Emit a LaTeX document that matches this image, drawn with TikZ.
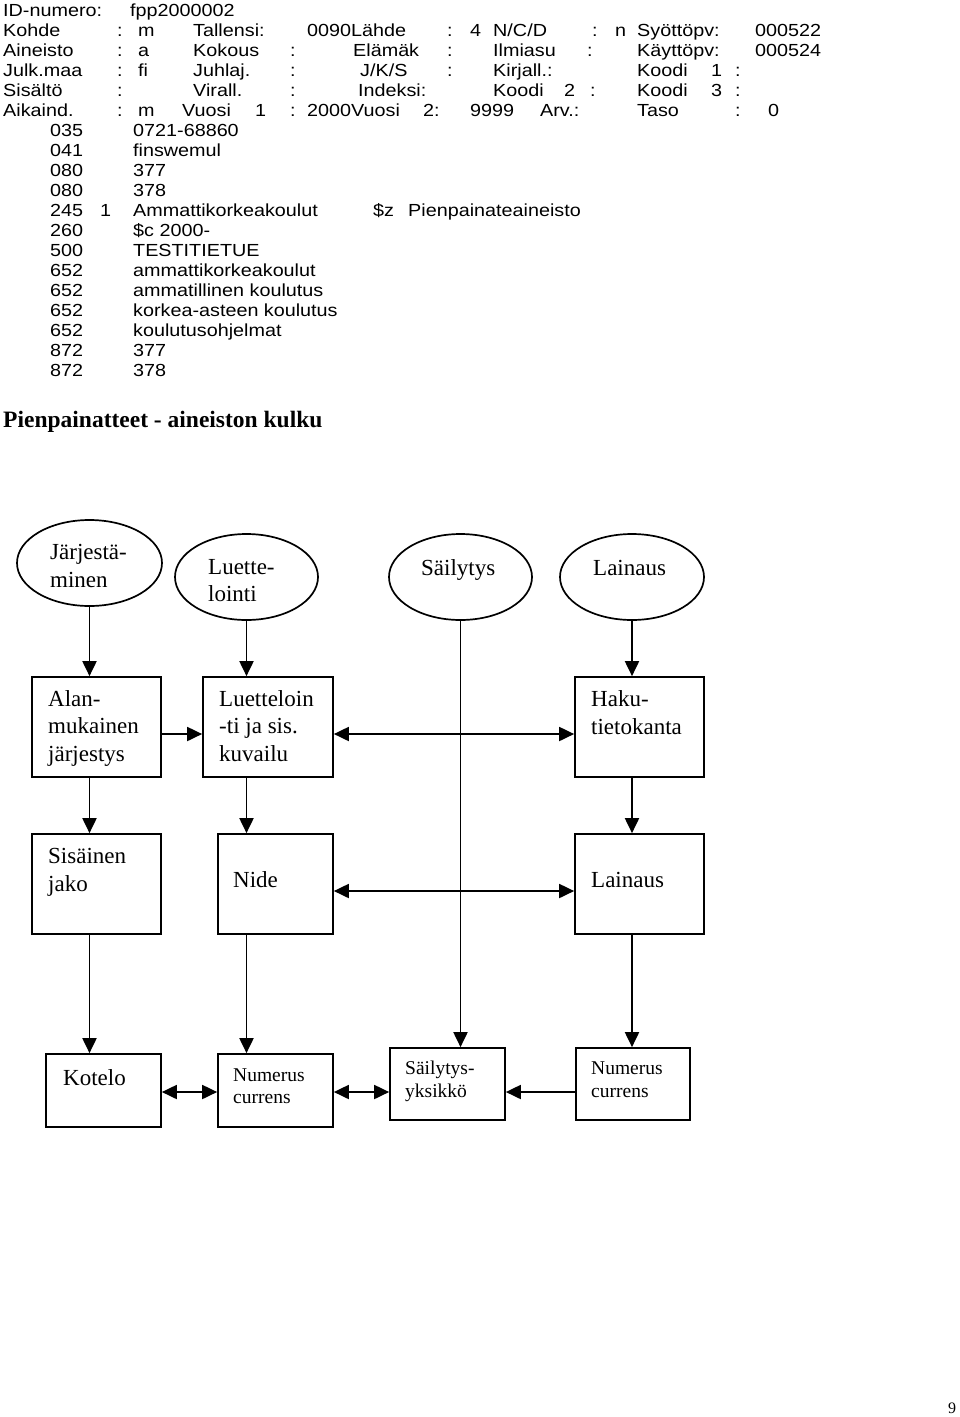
\documentclass[tikz,border=0pt]{standalone}
\usepackage{fontspec}
\setmainfont{Liberation Serif}
\newfontfamily\hdrfont[FakeStretch=1.13]{Liberation Sans}
\usetikzlibrary{arrows.meta,shapes.geometric,calc}
\begin{document}
\begin{tikzpicture}[x=1pt,y=-1pt,
  hdr/.style={anchor=base west,inner sep=0pt,font=\hdrfont\fontsize{17.5}{20}\selectfont},
  ttl/.style={anchor=base west,inner sep=0pt,font=\bfseries\fontsize{23.5}{27}\selectfont},
  lbl/.style={anchor=base west,inner sep=0pt,font=\fontsize{23}{27}\selectfont},
  slbl/.style={anchor=base west,inner sep=0pt,font=\fontsize{19.5}{23}\selectfont},
  oval/.style={ellipse,draw,line width=1.7pt,inner sep=0pt},
  boxx/.style={rectangle,draw,line width=1.7pt,inner sep=0pt},
  tip/.tip={Triangle[length=15pt,width=14pt]},
  arr/.style={line width=1.9pt,-tip},
  darr/.style={line width=1.9pt,tip-tip}]
\useasboundingbox (0,0) rectangle (960,1417);
\fill[white] (0,0) rectangle (960,1417);

% ---- header record ----
\node[hdr] (h1a) at (3,16) {ID-numero:};
\node[hdr] (h1b) at (130,16) {fpp2000002};

\node[hdr] (h2a) at (3,36) {Kohde};
\node[hdr] (h2b) at (117,36) {:};
\node[hdr] (h2c) at (138,36) {m};
\node[hdr] (h2d) at (193,36) {Tallensi:};
\node[hdr] (h2e) at (307,36) {0090Lähde};
\node[hdr] (h2f) at (447,36) {:};
\node[hdr] (h2g) at (470,36) {4};
\node[hdr] (h2h) at (493,36) {N/C/D};
\node[hdr] (h2i) at (592,36) {:};
\node[hdr] (h2j) at (615,36) {n};
\node[hdr] (h2k) at (637,36) {Syöttöpv:};
\node[hdr] (h2l) at (755,36) {000522};

\node[hdr] (h3a) at (3,56) {Aineisto};
\node[hdr] (h3b) at (117,56) {:};
\node[hdr] (h3c) at (138,56) {a};
\node[hdr] (h3d) at (193,56) {Kokous};
\node[hdr] (h3e) at (290,56) {:};
\node[hdr] (h3f) at (353,56) {Elämäk};
\node[hdr] (h3g) at (447,56) {:};
\node[hdr] (h3h) at (493,56) {Ilmiasu};
\node[hdr] (h3i) at (587,56) {:};
\node[hdr] (h3j) at (637,56) {Käyttöpv:};
\node[hdr] (h3k) at (755,56) {000524};

\node[hdr] (h4a) at (3,76) {Julk.maa};
\node[hdr] (h4b) at (117,76) {:};
\node[hdr] (h4c) at (138,76) {fi};
\node[hdr] (h4d) at (193,76) {Juhlaj.};
\node[hdr] (h4e) at (290,76) {:};
\node[hdr] (h4f) at (360,76) {J/K/S};
\node[hdr] (h4g) at (447,76) {:};
\node[hdr] (h4h) at (493,76) {Kirjall.:};
\node[hdr] (h4i) at (637,76) {Koodi};
\node[hdr] (h4j) at (711,76) {1};
\node[hdr] (h4k) at (735,76) {:};

\node[hdr] (h5a) at (3,96) {Sisältö};
\node[hdr] (h5b) at (117,96) {:};
\node[hdr] (h5c) at (193,96) {Virall.};
\node[hdr] (h5d) at (290,96) {:};
\node[hdr] (h5e) at (358,96) {Indeksi:};
\node[hdr] (h5f) at (493,96) {Koodi};
\node[hdr] (h5g) at (564,96) {2};
\node[hdr] (h5h) at (590,96) {:};
\node[hdr] (h5i) at (637,96) {Koodi};
\node[hdr] (h5j) at (711,96) {3};
\node[hdr] (h5k) at (735,96) {:};

\node[hdr] (h6a) at (3,116) {Aikaind.};
\node[hdr] (h6b) at (117,116) {:};
\node[hdr] (h6c) at (138,116) {m};
\node[hdr] (h6d) at (182,116) {Vuosi};
\node[hdr] (h6e) at (255,116) {1};
\node[hdr] (h6f) at (290,116) {:};
\node[hdr] (h6g) at (307,116) {2000Vuosi};
\node[hdr] (h6h) at (423,116) {2:};
\node[hdr] (h6i) at (470,116) {9999};
\node[hdr] (h6j) at (540,116) {Arv.:};
\node[hdr] (h6k) at (637,116) {Taso};
\node[hdr] (h6l) at (735,116) {:};
\node[hdr] (h6m) at (768,116) {0};

% ---- fields ----
\node[hdr] (f1a) at (50,136) {035};  \node[hdr] (f1b) at (133,136) {0721-68860};
\node[hdr] (f2a) at (50,156) {041};  \node[hdr] (f2b) at (133,156) {finswemul};
\node[hdr] (f3a) at (50,176) {080};  \node[hdr] (f3b) at (133,176) {377};
\node[hdr] (f4a) at (50,196) {080};  \node[hdr] (f4b) at (133,196) {378};
\node[hdr] (f5a) at (50,216) {245};  \node[hdr] (f5i) at (100,216) {1};
\node[hdr] (f5b) at (133,216) {Ammattikorkeakoulut};
\node[hdr] (f5c) at (373,216) {\$z};
\node[hdr] (f5d) at (408,216) {Pienpainateaineisto};
\node[hdr] (f6a) at (50,236) {260};  \node[hdr] (f6b) at (133,236) {\$c 2000-};
\node[hdr] (f7a) at (50,256) {500};  \node[hdr] (f7b) at (133,256) {TESTITIETUE};
\node[hdr] (f8a) at (50,276) {652};  \node[hdr] (f8b) at (133,276) {ammattikorkeakoulut};
\node[hdr] (f9a) at (50,296) {652};  \node[hdr] (f9b) at (133,296) {ammatillinen koulutus};
\node[hdr] (f10a) at (50,316) {652}; \node[hdr] (f10b) at (133,316) {korkea-asteen koulutus};
\node[hdr] (f11a) at (50,336) {652}; \node[hdr] (f11b) at (133,336) {koulutusohjelmat};
\node[hdr] (f12a) at (50,356) {872}; \node[hdr] (f12b) at (133,356) {377};
\node[hdr] (f13a) at (50,376) {872}; \node[hdr] (f13b) at (133,376) {378};

% ---- title ----
\node[ttl] (title) at (3,427) {Pienpainatteet - aineiston kulku};

% ---- ellipses ----
\node[oval,minimum width=145pt,minimum height=86pt] (e1) at (89.5,563) {};
\node[oval,minimum width=143pt,minimum height=86pt] (e2) at (246.5,577) {};
\node[oval,minimum width=143pt,minimum height=86pt] (e3) at (460.5,577) {};
\node[oval,minimum width=144pt,minimum height=86pt] (e4) at (632,577) {};
\node[lbl] (t1a) at (50,559) {Järjestä-};
\node[lbl] (t1b) at (50,587) {minen};
\node[lbl] (t2a) at (208,574) {Luette-};
\node[lbl] (t2b) at (208,601) {lointi};
\node[lbl] (t3) at (421,575) {Säilytys};
\node[lbl] (t4) at (593,575) {Lainaus};

% ---- row 1 boxes ----
\node[boxx,minimum width=129pt,minimum height=100pt] (A) at (96.5,727) {};
\node[boxx,minimum width=130pt,minimum height=100pt] (B) at (268,727) {};
\node[boxx,minimum width=129pt,minimum height=100pt] (C) at (639.5,727) {};
\node[lbl] (tA1) at (48,706) {Alan-};
\node[lbl] (tA2) at (48,733) {mukainen};
\node[lbl] (tA3) at (48,761) {järjestys};
\node[lbl] (tB1) at (219,706) {Luetteloin};
\node[lbl] (tB2) at (219,733) {-ti ja sis.};
\node[lbl] (tB3) at (219,761) {kuvailu};
\node[lbl] (tC1) at (591,706) {Haku-};
\node[lbl] (tC2) at (591,734) {tietokanta};

% ---- row 2 boxes ----
\node[boxx,minimum width=129pt,minimum height=100pt] (D) at (96.5,884) {};
\node[boxx,minimum width=115pt,minimum height=100pt] (E) at (275.5,884) {};
\node[boxx,minimum width=129pt,minimum height=100pt] (F) at (639.5,884) {};
\node[lbl] (tD1) at (48,863) {Sisäinen};
\node[lbl] (tD2) at (48,891) {jako};
\node[lbl] (tE) at (233,887) {Nide};
\node[lbl] (tF) at (591,887) {Lainaus};

% ---- row 3 boxes ----
\node[boxx,minimum width=115pt,minimum height=73pt] (G) at (103.5,1090.5) {};
\node[boxx,minimum width=115pt,minimum height=73pt] (H) at (275.5,1090.5) {};
\node[boxx,minimum width=115pt,minimum height=72pt] (I) at (447.5,1084) {};
\node[boxx,minimum width=114pt,minimum height=72pt] (J) at (633,1084) {};
\node[lbl] (tG) at (63,1085) {Kotelo};
\node[slbl] (tH1) at (233,1081) {Numerus};
\node[slbl] (tH2) at (233,1103) {currens};
\node[slbl] (tI1) at (405,1074) {Säilytys-};
\node[slbl] (tI2) at (405,1097) {yksikkö};
\node[slbl] (tJ1) at (591,1074) {Numerus};
\node[slbl] (tJ2) at (591,1097) {currens};

% ---- page number ----
\node[anchor=base west,inner sep=0pt,font=\fontsize{16}{19}\selectfont] (pg) at (948,1413) {9};

% ---- connector levels ----
\coordinate (r1) at (0,734);
\coordinate (r2) at (0,891);
\coordinate (r3) at (0,1092);

% ---- vertical connectors ----
\draw[arr] (e1.south) -- (A.north -| e1.south);
\draw[arr] (e2.south) -- (B.north -| e2.south);
\draw[arr] (e4.south) -- (C.north -| e4.south);
\draw[arr] (A.south -| e1.south) -- (D.north -| e1.south);
\draw[arr] (B.south -| e2.south) -- (E.north -| e2.south);
\draw[arr] (C.south -| e4.south) -- (F.north -| e4.south);
\draw[arr] (D.south -| e1.south) -- (G.north -| e1.south);
\draw[arr] (E.south -| e2.south) -- (H.north -| e2.south);
\draw[arr] (F.south -| e4.south) -- (J.north -| e4.south);
\draw[arr] (e3.south) -- (I.north -| e3.south);

% ---- horizontal connectors ----
\draw[arr] (A.east |- r1) -- (B.west |- r1);
\draw[darr] (B.east |- r1) -- (C.west |- r1);
\draw[darr] (E.east |- r2) -- (F.west |- r2);
\draw[darr] (G.east |- r3) -- (H.west |- r3);
\draw[darr] (H.east |- r3) -- (I.west |- r3);
\draw[arr] (J.west |- r3) -- (I.east |- r3);
\end{tikzpicture}
\end{document}
